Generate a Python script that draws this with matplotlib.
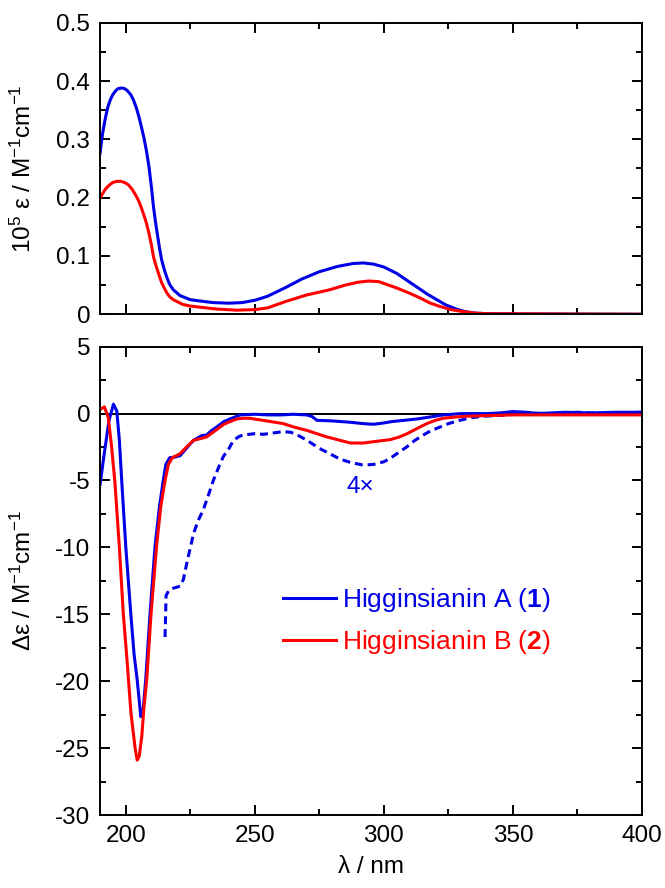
import numpy as np
import matplotlib
matplotlib.use('Agg')
import matplotlib.pyplot as plt
from matplotlib.ticker import MultipleLocator, FixedLocator, FixedFormatter

# UV absorption, 10^5 eps (top panel)
uv_nm_a = [190, 191, 192, 193, 194, 195, 196, 197, 198.4, 199.5, 200.5, 202, 203, 204, 205, 206, 207, 208,
           209, 210, 210.7, 211.5, 212.3, 213.1, 213.9, 215, 216, 217, 218.4, 221, 225, 230, 234, 240, 245,
           250, 255, 262, 268, 275, 282, 288, 292, 296, 300, 305, 310, 313, 317, 320.5, 324, 328, 331,
           335, 340, 350, 400]
uv_a = [0.276, 0.31, 0.335, 0.355, 0.368, 0.377, 0.383, 0.387, 0.388, 0.387, 0.384, 0.376, 0.367, 0.355,
        0.340, 0.322, 0.303, 0.280, 0.252, 0.215, 0.185, 0.158, 0.135, 0.112, 0.093, 0.075, 0.062, 0.051,
        0.042, 0.032, 0.025, 0.022, 0.020, 0.019, 0.020, 0.024, 0.031, 0.046, 0.060, 0.073, 0.082, 0.087,
        0.088, 0.086, 0.081, 0.070, 0.055, 0.046, 0.034, 0.025, 0.016, 0.009, 0.005, 0.002, 0.001, 0.0005,
        0.0]
uv_nm_b = [190, 191, 192, 193, 194, 195, 196.5, 198, 199.5, 201, 202.5, 204, 205, 206, 207, 208, 209,
           210, 210.7, 211.5, 212.3, 213.1, 213.9, 215, 216, 217, 218.4, 222, 225, 235, 243, 250, 255,
           262, 270, 279, 285, 290, 294, 298, 305, 310, 314, 318, 322, 326, 330, 335, 340, 400]
uv_b = [0.199, 0.207, 0.214, 0.219, 0.223, 0.226, 0.228, 0.228, 0.226, 0.222, 0.214, 0.203, 0.194, 0.183,
        0.170, 0.156, 0.138, 0.117, 0.099, 0.086, 0.075, 0.064, 0.054, 0.044, 0.036, 0.030, 0.025, 0.017,
        0.014, 0.009, 0.007, 0.008, 0.011, 0.022, 0.033, 0.042, 0.050, 0.055, 0.057, 0.056, 0.045, 0.036,
        0.028, 0.019, 0.013, 0.008, 0.005, 0.002, 0.001, 0.0]

# CD spectra, delta eps (bottom panel)
cd_nm_a = [190, 192, 193.5, 195.2, 196.5, 197.5, 198.4, 200, 201.9, 203.2, 204.4, 205.8, 206.6, 207.7,
           209.4, 211.3, 213, 214.5, 215.5, 217, 219, 221, 223, 226.2, 229.4, 231.3, 233, 235.2, 238,
           240.4, 244.3, 250, 255, 260, 265, 270, 272, 274, 280, 287, 292, 296, 300, 303, 308, 313, 318,
           323, 330, 340, 345, 350, 355, 360, 365, 370, 380, 390, 400]
cd_a = [-5.3, -2.5, -0.5, 0.7, 0.2, -2.0, -5.0, -10.0, -14.9, -18.0, -19.9, -22.65, -22.4, -19.9,
        -14.9, -9.95, -7.0, -5.0, -3.8, -3.3, -3.25, -3.15, -2.7, -2.0, -1.65, -1.6, -1.3, -1.0, -0.6,
        -0.4, -0.1, -0.05, -0.1, -0.1, -0.05, -0.1, -0.2, -0.5, -0.55, -0.65, -0.75, -0.8, -0.7, -0.6,
        -0.5, -0.4, -0.25, -0.1, 0.0, 0.0, 0.05, 0.15, 0.1, 0.0, 0.05, 0.1, 0.05, 0.1, 0.1]
cd_nm_b = [190, 191.7, 193.2, 194.5, 195.8, 197.5, 199, 200.5, 202, 203.6, 204.4, 205.2, 206.2, 207,
           208.1, 209.8, 211.9, 213.5, 215.2, 216.5, 218, 221, 223, 226.2, 229.4, 231.3, 233, 235.2,
           238, 240.4, 243, 245.6, 248, 254.6, 261, 265, 270, 274, 278, 282, 287, 292, 296, 302.4, 306,
           309, 313, 316.6, 320, 323, 328, 332, 340, 350, 360, 400]
cd_b = [0.3, 0.5, -0.3, -2.5, -5.2, -10.0, -14.9, -18.5, -22.4, -25.0, -25.9, -25.6, -24.1, -22.0,
        -19.9, -14.9, -9.95, -7.0, -5.0, -3.8, -3.3, -3.0, -2.6, -2.0, -1.85, -1.75, -1.5, -1.2, -0.8,
        -0.6, -0.4, -0.35, -0.35, -0.55, -0.75, -1.0, -1.25, -1.5, -1.75, -1.95, -2.2, -2.2, -2.1,
        -1.95, -1.75, -1.5, -1.1, -0.75, -0.5, -0.35, -0.25, -0.2, -0.15, -0.1, -0.1, -0.1]
# compound 1 scaled 4x
cd_nm_a4 = [215.2, 215.6, 216.7, 218.4, 221, 222.3, 223.6, 226.2, 228, 230, 232, 233.9, 236, 237.8, 240,
            241.7, 244, 245.6, 250, 253.3, 257, 261, 264, 267.5, 271, 275, 279, 283, 287, 292, 296, 300,
            302.4, 305, 308.8, 312, 315.3, 318, 321.8, 325, 329.5, 334, 338.5, 348, 355, 365, 375, 385, 400]
cd_a4 = [-16.7, -13.6, -13.2, -13.05, -12.9, -12.4, -11.2, -9.0, -8.0, -7.2, -6.1, -5.0, -4.0, -3.2, -2.6,
         -2.0, -1.7, -1.6, -1.5, -1.55, -1.45, -1.35, -1.4, -1.7, -2.1, -2.6, -3.0, -3.4, -3.65, -3.85,
         -3.8, -3.6, -3.35, -3.0, -2.5, -2.0, -1.6, -1.3, -1.0, -0.75, -0.5, -0.3, -0.2, -0.1, 0.05, 0.0,
         0.1, 0.0, 0.1]

labels = ['Higginsianin A ($\\mathbf{1}$)', 'Higginsianin B ($\\mathbf{2}$)']
blue = '#0000e6'
red = '#ff0000'

plt.rcParams['font.family'] = ['Liberation Sans', 'DejaVu Sans']
plt.rcParams['mathtext.fontset'] = 'custom'
plt.rcParams['mathtext.rm'] = 'Liberation Sans'
plt.rcParams['mathtext.it'] = 'Liberation Sans:italic'
plt.rcParams['mathtext.bf'] = 'Liberation Sans:bold'
plt.rcParams['axes.unicode_minus'] = False

fig = plt.figure(figsize=(6.65, 8.88), dpi=100)
ax1 = fig.add_axes([0.1504, 0.6461, 0.8150, 0.3283])
ax2 = fig.add_axes([0.1504, 0.0822, 0.8150, 0.5274])

lw = 2.2
ax1.plot(uv_nm_a, uv_a, color=blue, lw=lw)
ax1.plot(uv_nm_b, uv_b, color=red, lw=lw)

ax2.axhline(0, color='black', lw=1.4, zorder=1)
ax2.plot(cd_nm_a4, cd_a4, color=blue, lw=lw, dashes=(2.6, 1.6))
ax2.plot(cd_nm_a, cd_a, color=blue, lw=lw, label=labels[0])
ax2.plot(cd_nm_b, cd_b, color=red, lw=lw, label=labels[1])
ax2.text(291, -5.5, '4×', color=blue, fontsize=17.5, ha='center', va='center')

ax1.set_xlim(190, 400)
ax1.set_ylim(0, 0.5)
ax2.set_xlim(190, 400)
ax2.set_ylim(-30, 5)

ax1.yaxis.set_major_locator(FixedLocator([0, 0.1, 0.2, 0.3, 0.4, 0.5]))
ax1.yaxis.set_major_formatter(FixedFormatter(['0', '0.1', '0.2', '0.3', '0.4', '0.5']))
ax1.yaxis.set_minor_locator(MultipleLocator(0.05))
ax2.yaxis.set_major_locator(MultipleLocator(5))
ax2.yaxis.set_minor_locator(MultipleLocator(2.5))
for ax in (ax1, ax2):
    ax.xaxis.set_major_locator(MultipleLocator(50))
    ax.xaxis.set_minor_locator(MultipleLocator(25))
    ax.tick_params(which='both', direction='in', top=True, right=True, width=1.4, labelsize=17.5)
    ax.tick_params(which='major', length=7, pad=7)
    ax.tick_params(which='minor', length=4)
    for s in ax.spines.values():
        s.set_linewidth(1.4)
ax1.tick_params(labelbottom=False)

ax1.set_ylabel('10$^{5}$ ε / M$^{-1}$cm$^{-1}$', fontsize=17.5)
ax2.set_ylabel('Δε / M$^{-1}$cm$^{-1}$', fontsize=17.5)
ax2.set_xlabel('λ / nm', fontsize=17.5, labelpad=7)
ax1.yaxis.set_label_coords(-0.118, 0.5)
ax2.yaxis.set_label_coords(-0.118, 0.5)

ax2.legend(loc='center left', bbox_to_anchor=(0.338, 0.414), frameon=False, fontsize=19,
           handlelength=2.0, handletextpad=0.22, labelspacing=0.55, borderpad=0, borderaxespad=0,
           labelcolor='linecolor')

fig.savefig('out.png', dpi=100)
